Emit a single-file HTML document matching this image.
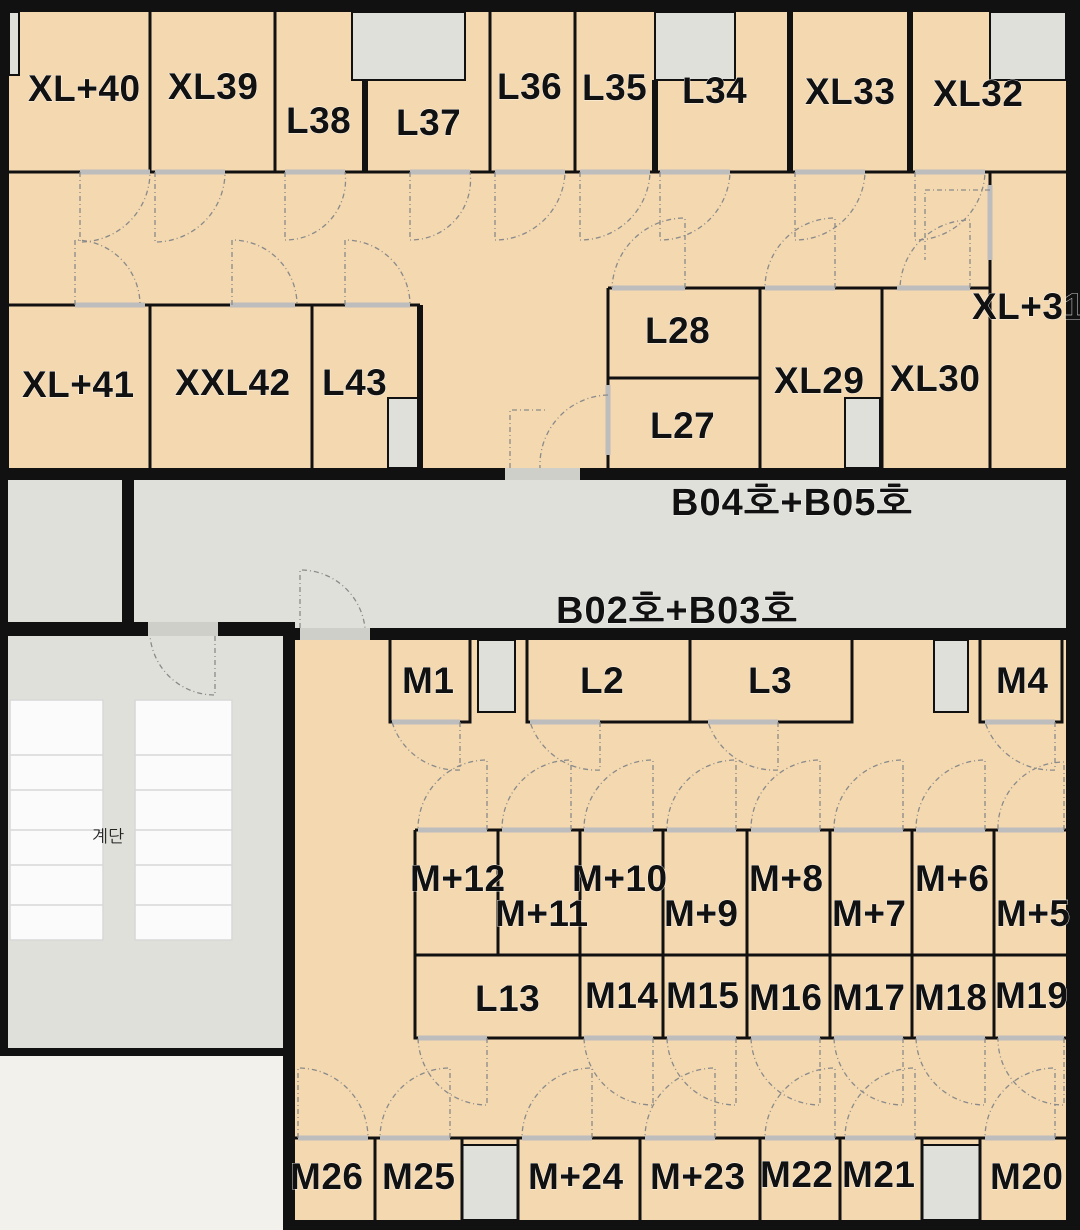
<!DOCTYPE html>
<html><head><meta charset="utf-8"><style>
html,body{margin:0;padding:0;background:#f2f1ec;}
svg{display:block}
text{font-family:"Liberation Sans","NanumGothic",sans-serif;font-weight:bold;font-size:37px;letter-spacing:0.5px;fill:#111;stroke:#fff;stroke-width:0.8;paint-order:stroke}
.s text{font-size:37px}
.b{font-size:38px;letter-spacing:1px}
</style></head><body>
<svg width="1080" height="1230" viewBox="0 0 1080 1230" xmlns="http://www.w3.org/2000/svg">
<rect x="0" y="0" width="1080" height="1230" fill="#f2f1ec"/>
<rect x="0" y="0" width="1080" height="480" fill="#111"/>
<rect x="9" y="12" width="1057" height="456" fill="#f3d8b0"/>
<rect x="0" y="468" width="1080" height="172" fill="#111"/>
<rect x="8" y="480" width="114" height="142" fill="#e0e0db"/>
<rect x="134" y="480" width="932" height="148" fill="#e0e0db"/>
<rect x="505" y="468" width="75" height="12" fill="#cfcfca"/>
<rect x="0" y="622" width="295" height="434" fill="#111"/>
<rect x="8" y="636" width="275" height="412" fill="#e0e0db"/>
<rect x="148" y="622" width="70" height="14" fill="#cfcfca"/>
<rect x="283" y="628" width="797" height="602" fill="#111"/>
<rect x="295" y="640" width="771" height="580" fill="#f3d8b0"/>
<rect x="300" y="628" width="70" height="12" fill="#cfcfca"/>

<g fill="#e0e0db" stroke="#111" stroke-width="2">
<rect x="9" y="12" width="10" height="63"/>
<rect x="352" y="12" width="113" height="68"/>
<rect x="655" y="12" width="80" height="68"/>
<rect x="990" y="12" width="76" height="68"/>
<rect x="388" y="398" width="32" height="70"/>
<rect x="845" y="398" width="35" height="70"/>
<rect x="478" y="640" width="37" height="72"/>
<rect x="934" y="640" width="34" height="72"/>
<rect x="462" y="1145" width="56" height="75"/>
<rect x="922" y="1145" width="58" height="75"/>
</g>

<g fill="#fbfbfb" stroke="#d8d8d8" stroke-width="1.5">
<rect x="10" y="700" width="93" height="240"/>
<rect x="135" y="700" width="97" height="240"/>
<path d="M10 755H103M10 790H103M10 830H103M10 865H103M10 905H103M135 755H232M135 790H232M135 830H232M135 865H232M135 905H232" fill="none"/>
</g>
<text x="92" y="842" style="font-size:17px;font-weight:normal;stroke:none;fill:#222;letter-spacing:0">계단</text>

<g stroke="#111" stroke-width="3" fill="none">
<path d="M150 12V172M275 12V172M365 80V172M490 12V172M575 12V172M655 80V172M790 12V172M910 12V172"/>
<path d="M9 172H1066M990 172V468"/>
<path d="M9 305H420M150 305V468M312 305V468M420 305V468"/>
<path d="M608 288H990M608 288V468M608 378H760M760 288V468M882 288V468"/>
<path d="M390 640V722H470V640M527 640V722H852V640M690 640V722M980 640V722H1062V640"/>
<path d="M415 830H1066M415 830V1038H580M415 955H1066M498 830V955M580 830V1038M663 830V1038M747 830V1038M830 830V1038M912 830V1038M994 830V1038M580 1038H1066"/>
<path d="M295 1138H1066M375 1138V1220M462 1138V1220M518 1138V1220M640 1138V1220M760 1138V1220M840 1138V1220M922 1138V1220M980 1138V1220"/>
</g>
<g stroke="#111" stroke-width="6" fill="none">
<path d="M365 80V172M420 305V468M655 80V172M790 12V172M910 12V172"/>
</g>

<g stroke="#bdbdbd" stroke-width="5">
<path d="M80 172H150M155 172H225M285 172H345M410 172H470M495 172H565M580 172H650M660 172H730M795 172H865M915 172H985"/>
<path d="M75 305H145M230 305H295M345 305H410M612 288H685M765 288H835M897 288H970M990 185V260M608 385V455"/>
<path d="M392 722H460M530 722H600M708 722H778M985 722H1055"/>
<path d="M418 830H487M502 830H571M584 830H653M667 830H736M751 830H820M834 830H903M916 830H985M998 830H1064"/>
<path d="M418 1038H487M584 1038H653M667 1038H736M751 1038H820M834 1038H903M916 1038H985M998 1038H1064"/>
<path d="M298 1138H368M380 1138H450M522 1138H592M645 1138H715M765 1138H835M845 1138H915M985 1138H1055"/>
</g>

<g stroke="#8a8a8a" stroke-width="1.3" fill="none" stroke-dasharray="5 3 1 3">
<path d="M80 172V242A70 70 0 0 0 150 172M155 172V242A70 70 0 0 0 225 172M285 172V240A60 60 0 0 0 345 172M410 172V240A60 60 0 0 0 470 172M495 172V240A70 70 0 0 0 565 172M580 172V240A70 70 0 0 0 650 172M660 172V240A70 70 0 0 0 730 172M795 172V240A70 70 0 0 0 865 172M915 172V240A70 70 0 0 0 985 172"/>
<path d="M75 305V240A65 65 0 0 1 140 305M232 305V240A65 65 0 0 1 297 305M345 305V240A65 65 0 0 1 410 305"/>
<path d="M685 288V218A73 73 0 0 0 612 288M835 288V218A70 70 0 0 0 765 288M970 288V220A70 70 0 0 0 900 288M990 190H925V260"/>
<path d="M510 468V410H545M608 395A70 70 0 0 0 540 468"/>
<path d="M300 628V570A65 65 0 0 1 365 628M215 636V695A65 65 0 0 1 150 636"/>
<path d="M460 722V770A68 68 0 0 1 392 722M600 722V770A70 70 0 0 1 530 722M778 722V770A70 70 0 0 1 708 722M1055 722V770A70 70 0 0 1 985 722"/>
<path d="M487 830V760A69 69 0 0 0 418 830M571 830V760A69 69 0 0 0 502 830M653 830V760A69 69 0 0 0 584 830M736 830V760A69 69 0 0 0 667 830M820 830V760A69 69 0 0 0 751 830M903 830V760A69 69 0 0 0 834 830M985 830V760A69 69 0 0 0 916 830M1064 830V762A66 66 0 0 0 998 830"/>
<path d="M487 1038V1105A69 69 0 0 1 418 1038M653 1038V1105A69 69 0 0 1 584 1038M736 1038V1105A69 69 0 0 1 667 1038M820 1038V1105A69 69 0 0 1 751 1038M903 1038V1105A69 69 0 0 1 834 1038M985 1038V1105A69 69 0 0 1 916 1038M1064 1038V1105A66 66 0 0 1 998 1038"/>
<path d="M298 1138V1068A70 70 0 0 1 368 1138M450 1138V1068A70 70 0 0 0 380 1138M592 1138V1068A70 70 0 0 0 522 1138M715 1138V1068A70 70 0 0 0 645 1138M835 1138V1068A70 70 0 0 0 765 1138M915 1138V1068A70 70 0 0 0 845 1138M1055 1138V1068A70 70 0 0 0 985 1138"/>
</g>

<g class="s">
<text x="28" y="101">XL+40</text>
<text x="168" y="99">XL39</text>
<text x="286" y="133">L38</text>
<text x="396" y="135">L37</text>
<text x="497" y="99">L36</text>
<text x="582" y="100">L35</text>
<text x="682" y="103">L34</text>
<text x="805" y="104">XL33</text>
<text x="933" y="106">XL32</text>
<text x="22" y="397">XL+41</text>
<text x="175" y="395">XXL42</text>
<text x="322" y="395">L43</text>
<text x="645" y="343">L28</text>
<text x="650" y="438">L27</text>
<text x="774" y="393">XL29</text>
<text x="890" y="391">XL30</text>
<text x="972" y="319">XL+31</text>
</g>
<text class="b" x="671" y="515">B04호+B05호</text>
<text class="b" x="556" y="623">B02호+B03호</text>
<text x="402" y="693">M1</text>
<text x="580" y="693">L2</text>
<text x="748" y="693">L3</text>
<text x="996" y="693">M4</text>
<text x="410" y="891">M+12</text>
<text x="495" y="926">M+11</text>
<text x="572" y="891">M+10</text>
<text x="664" y="926">M+9</text>
<text x="749" y="891">M+8</text>
<text x="832" y="926">M+7</text>
<text x="915" y="891">M+6</text>
<text x="996" y="926">M+5</text>
<text x="475" y="1011">L13</text>
<text x="585" y="1008">M14</text>
<text x="666" y="1008">M15</text>
<text x="749" y="1010">M16</text>
<text x="832" y="1010">M17</text>
<text x="914" y="1010">M18</text>
<text x="995" y="1008">M19</text>
<text x="290" y="1189">M26</text>
<text x="382" y="1189">M25</text>
<text x="528" y="1189">M+24</text>
<text x="650" y="1189">M+23</text>
<text x="760" y="1187">M22</text>
<text x="842" y="1187">M21</text>
<text x="990" y="1189">M20</text>
</svg>
</body></html>
